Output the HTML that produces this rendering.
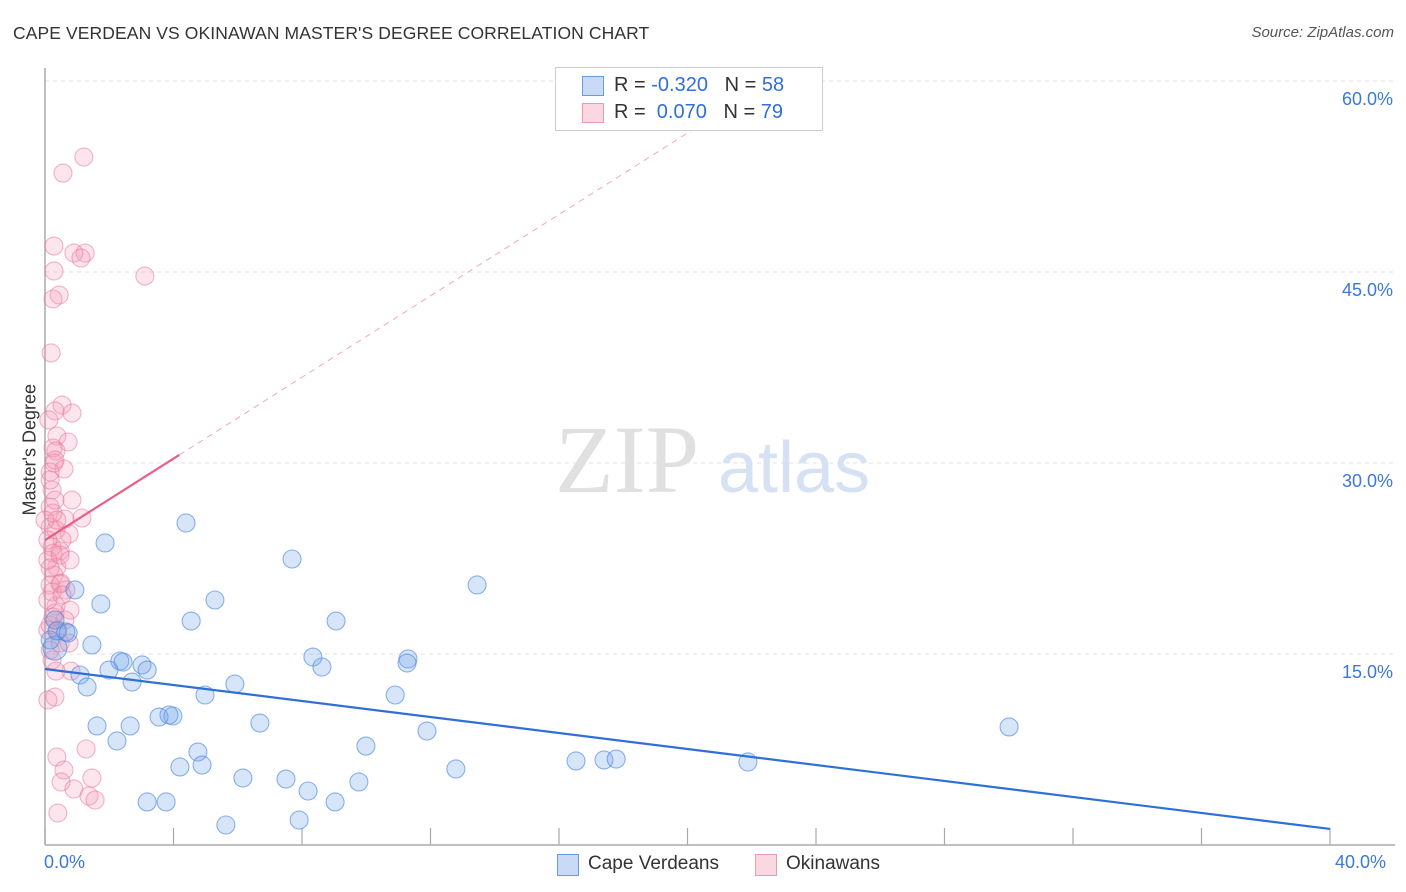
<!DOCTYPE html>
<html><head><meta charset="utf-8"><style>
body{margin:0;background:#fff;font-family:"Liberation Sans",sans-serif;}
#wrap{position:relative;width:1406px;height:892px;overflow:hidden;}
.t{position:absolute;white-space:nowrap;}
</style></head><body>
<div id="wrap">
<div class="t" style="left:13px;top:23px;font-size:17.5px;color:#333;letter-spacing:0.1px">CAPE VERDEAN VS OKINAWAN MASTER'S DEGREE CORRELATION CHART</div>
<div class="t" style="right:12px;top:24px;font-size:15px;color:#555;font-style:italic">Source: ZipAtlas.com</div>
<svg id="plot" width="1406" height="892" style="position:absolute;left:0;top:0"></svg>
</div>
<script>
const xTicks=[0,4,8,12,16,20,24,28,32,36,40];
const yTicks=[15,30,45,60];
const yTickLabels=["15.0%","30.0%","45.0%","60.0%"];
const blueX=[4.39,1.87,7.69,13.45,0.93,1.74,5.29,4.55,9.06,0.65,1.46,8.34,11.30,11.27,8.62,2.33,2.43,3.02,3.18,1.99,1.09,2.71,1.31,5.91,4.98,10.90,1.62,2.65,3.55,3.98,3.86,6.69,11.89,9.99,2.24,4.76,4.20,4.89,12.79,16.53,17.40,17.78,21.88,30.01,6.16,7.50,8.19,9.77,3.18,3.77,9.03,5.63,7.91,0.31,0.16,0.37,0.72,0.31];
const blueY=[25.29,23.72,22.46,20.42,20.03,18.93,19.24,17.59,17.59,16.73,15.71,14.76,14.61,14.29,13.98,14.45,14.37,14.14,13.74,13.74,13.35,12.80,12.41,12.64,11.78,11.78,9.35,9.35,10.05,10.13,10.21,9.58,8.95,7.77,8.17,7.30,6.13,6.28,5.97,6.60,6.68,6.75,6.52,9.27,5.26,5.18,4.24,4.95,3.38,3.38,3.38,1.57,1.96,15.47,16.10,16.81,16.65,17.67];
const pinkX=[1.21,0.56,0.28,1.25,0.90,1.12,3.11,0.28,0.44,0.25,0.19,0.53,0.84,0.31,0.37,0.72,0.25,0.34,0.28,0.31,0.59,0.16,0.84,0.16,1.15,0.62,0.25,0.75,0.16,0.34,0.53,0.22,0.47,0.25,0.37,0.16,0.28,0.50,0.16,0.22,0.47,0.34,0.78,0.31,0.62,0.16,0.25,0.81,0.34,0.31,1.28,0.37,0.59,0.50,1.46,0.90,1.37,1.56,0.40,0.09,0.16,0.47,0.75,0.09,0.09,0.22,0.16,0.37,0.09,0.65,0.12,0.53,0.40,0.22,0.09,0.47,0.78,0.31,0.0];
const pinkY=[54.03,52.77,47.04,46.49,46.49,46.10,44.68,45.08,43.19,42.88,38.64,34.55,33.92,34.08,32.12,31.65,31.18,30.94,30.00,30.23,29.53,29.29,27.09,26.54,25.68,25.60,26.07,24.42,24.97,24.74,23.95,23.40,23.09,22.93,21.83,21.75,21.20,20.57,20.42,19.87,20.50,18.77,18.45,18.22,17.67,17.28,17.90,13.66,13.66,11.62,7.54,6.91,5.89,4.95,5.26,4.40,3.85,3.53,2.51,16.88,15.31,15.86,15.86,22.38,23.95,27.88,28.66,25.52,19.24,20.03,33.38,19.63,16.88,14.53,11.39,22.77,22.38,27.09,25.52];
const blueTrend=[13.82,1.26];
const pinkTrend=[23.95,30.63,4.18];

const NS="http://www.w3.org/2000/svg";
const svg=document.getElementById('plot');
const X0=45,X1=1330,Y0=845,PX=191/15;
const sx=v=>X0+(v/40)*(X1-X0);
const sy=v=>Y0-v*PX;
function mk(tag,attrs,parent){const e=document.createElementNS(NS,tag);for(const k in attrs)e.setAttribute(k,attrs[k]);(parent||svg).appendChild(e);return e;}

yTicks.forEach((t,i)=>{
  const g=mk('line',{x1:X0,x2:1395,y1:sy(t),y2:sy(t),stroke:'#e2e2e2','stroke-width':1,'stroke-dasharray':'4,4'});
  
  
  const tx=mk('text',{x:1393,y:sy(t)+24,'text-anchor':'end','font-size':18,fill:'#3b78d8','font-family':'Liberation Sans, sans-serif'});
  tx.textContent=yTickLabels[i];
  
  
});
const ya=mk('line',{x1:X0,x2:X0,y1:68,y2:Y0,stroke:'#aaa','stroke-width':1.5});


const xa=mk('line',{x1:X0,x2:1395,y1:Y0,y2:Y0,stroke:'#aaa','stroke-width':1.5});


xTicks.forEach(t=>{
  const l=mk('line',{x1:sx(t),x2:sx(t),y1:Y0,y2:Y0-17,stroke:'#aaa','stroke-width':1.2});
  
  
});
const wm=mk('text',{x:555,y:492,'font-size':96,fill:'#e0e0e0','font-family':'Liberation Serif, serif'});
wm.textContent='ZIP';


const wm2=mk('text',{x:718,y:492,'font-size':72,fill:'#d6e2f4','font-family':'Liberation Sans, sans-serif'});
wm2.textContent='atlas';



pinkX.forEach((x,i)=>{
  const c=mk('circle',{cx:sx(x),cy:sy(pinkY[i]),r:9,fill:'rgba(244,150,180,0.25)',stroke:'rgba(232,120,158,0.55)','stroke-width':1.1});
  
  
});
blueX.forEach((x,i)=>{
  const c=mk('circle',{cx:sx(x),cy:sy(blueY[i]),r:i==53?12:9,fill:'rgba(110,160,235,0.28)',stroke:'rgba(70,130,220,0.6)','stroke-width':1.1});
  
  
});
const bt=mk('line',{x1:sx(0),y1:sy(blueTrend[0]),x2:sx(40),y2:sy(blueTrend[1]),stroke:'#2f6fd8','stroke-width':2.2});


const slope=(pinkTrend[1]-pinkTrend[0])/pinkTrend[2];
const xEnd=(60-pinkTrend[0])/slope;
const pd=mk('line',{x1:sx(pinkTrend[2]),y1:sy(pinkTrend[1]),x2:sx(xEnd),y2:sy(60),stroke:'#f0a8be','stroke-width':1,'stroke-dasharray':'6,5'});


const pt=mk('line',{x1:sx(0),y1:sy(pinkTrend[0]),x2:sx(pinkTrend[2]),y2:sy(pinkTrend[1]),stroke:'#e8608a','stroke-width':2.2});


</script>
<div class="t" style="left:-30px;top:445px;transform:rotate(-90deg);font-size:18px;color:#333;width:120px;text-align:center">Master's Degree</div>
<div class="t" style="left:44px;top:852px;font-size:18px;color:#3b78d8">0.0%</div>
<div class="t" style="left:1335px;top:852px;font-size:18px;color:#3b78d8">40.0%</div>
<div style="position:absolute;left:555px;top:67px;width:266px;height:62px;background:#fff;border:1px solid #ccc;font-size:20px;color:#333">
 <div style="position:absolute;left:26px;top:8px;width:20px;height:18px;background:rgba(100,150,230,0.35);border:1px solid #6a9ae0"></div>
 <div class="t" style="left:58px;top:6px">R = <span style="color:#2f6fd8">-0.320</span>&nbsp;&nbsp;&nbsp;N = <span style="color:#2f6fd8">58</span></div>
 <div style="position:absolute;left:26px;top:35px;width:20px;height:18px;background:rgba(240,140,170,0.35);border:1px solid #eb9ab4"></div>
 <div class="t" style="left:58px;top:33px">R = &nbsp;<span style="color:#2f6fd8">0.070</span>&nbsp;&nbsp;&nbsp;N = <span style="color:#2f6fd8">79</span></div>
</div>
<div style="position:absolute;left:557px;top:853px;font-size:19px;color:#333">
 <div style="position:absolute;left:0;top:1px;width:20px;height:20px;background:rgba(100,150,230,0.35);border:1px solid #6a9ae0"></div>
 <div class="t" style="left:31px;top:0">Cape Verdeans</div>
</div>
<div style="position:absolute;left:755px;top:853px;font-size:19px;color:#333">
 <div style="position:absolute;left:0;top:1px;width:20px;height:20px;background:rgba(240,140,170,0.35);border:1px solid #eb9ab4"></div>
 <div class="t" style="left:31px;top:0">Okinawans</div>
</div>
</body></html>
